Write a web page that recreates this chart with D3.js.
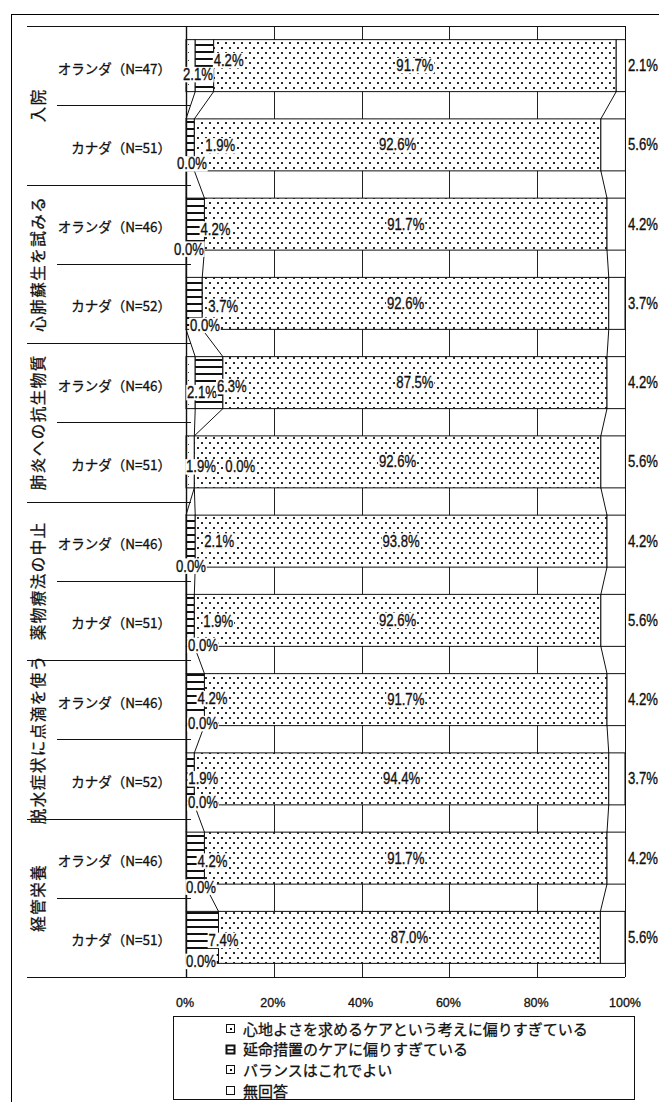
<!DOCTYPE html>
<html>
<head>
<meta charset="utf-8">
<script src="https://cdn.jsdelivr.net/npm/d3@7/dist/d3.min.js"></script>
<style>
  body { margin: 0; background: #fff; }
  svg { display: block; }
  .num { font-family: "Liberation Sans", Arial, sans-serif; font-size: 16px; fill: #111; stroke: #111; stroke-width: 0.35px; }
  .jp { font-family: "Noto Sans CJK JP", sans-serif; fill: #111; stroke: #111; stroke-width: 0.3px; }
</style>
</head>
<body>
<svg id="chart" width="659" height="1102"></svg>
<script>
// ---- data ----
const groups = ["入院", "心肺蘇生を試みる", "肺炎への抗生物質", "薬物療法の中止", "脱水症状に点滴を使う", "経管栄養"];
const rowLabels = [
  "オランダ（N=47）", "カナダ（N=51）",
  "オランダ（N=46）", "カナダ（N=52）",
  "オランダ（N=46）", "カナダ（N=51）",
  "オランダ（N=46）", "カナダ（N=51）",
  "オランダ（N=46）", "カナダ（N=52）",
  "オランダ（N=46）", "カナダ（N=51）"
];
const seriesNames = [
  "心地よさを求めるケアという考えに偏りすぎている",
  "延命措置のケアに偏りすぎている",
  "バランスはこれでよい",
  "無回答"
];
const comfort     = [2.1, 0.0, 0.0, 0.0, 2.1, 1.9, 0.0, 0.0, 0.0, 0.0, 0.0, 0.0];
const prolong     = [4.2, 1.9, 4.2, 3.7, 6.3, 0.0, 2.1, 1.9, 4.2, 1.9, 4.2, 7.4];
const balance     = [91.7, 92.6, 91.7, 92.6, 87.5, 92.6, 93.8, 92.6, 91.7, 94.4, 91.7, 87.0];
const noAnswer    = [2.1, 5.6, 4.2, 3.7, 4.2, 5.6, 4.2, 5.6, 4.2, 3.7, 4.2, 5.6];
const xTicks      = [0, 20, 40, 60, 80, 100];

// ---- label placement nudges (pixels) ----
// first-series labels: [dx from axis, dy from bar bottom]
const comfortNudge = [[-3,-17],[-9,-7],[-12,-1],[4,-4],[1,-16],[0,-21],[-10,-1],[2,-1],[2,-2],[2,-2],[0,3],[0,-2]];
// second-series labels: [dx from segment end, dy from bar centre]
const prolongNudge = [[0,-5],[11,1],[-4,5],[6,3],[-6,4],[31,5],[9,0],[9,1],[-7,-1],[-6,0],[-7,3],[-10,3]];

const keys = ["comfort", "prolong", "balance", "noAnswer"];
const rows = rowLabels.map((r, i) => ({
  idx: i, comfort: comfort[i], prolong: prolong[i], balance: balance[i], noAnswer: noAnswer[i]
}));
const stacked = d3.stack().keys(keys)(rows);

const svg = d3.select("#chart");

// ---- patterns ----
const defs = svg.append("defs");
const pSparse = defs.append("pattern").attr("id", "pat-sparse").attr("patternUnits", "userSpaceOnUse")
  .attr("width", 8).attr("height", 8);
pSparse.append("rect").attr("width", 8).attr("height", 8).attr("fill", "#fff");
pSparse.append("rect").attr("x", 4).attr("y", 4).attr("width", 1).attr("height", 1).attr("fill", "#444");

const pLines = defs.append("pattern").attr("id", "pat-lines").attr("patternUnits", "userSpaceOnUse")
  .attr("width", 8).attr("height", 7);
pLines.append("rect").attr("width", 8).attr("height", 7).attr("fill", "#fff");
pLines.append("rect").attr("x", 0).attr("y", 2).attr("width", 8).attr("height", 2).attr("fill", "#111");

const pDots = defs.append("pattern").attr("id", "pat-dots").attr("patternUnits", "userSpaceOnUse")
  .attr("width", 8).attr("height", 10);
pDots.append("rect").attr("width", 8).attr("height", 10).attr("fill", "#fff");
pDots.append("rect").attr("x", 1).attr("y", 2).attr("width", 2).attr("height", 2).attr("fill", "#2a2a2a");
pDots.append("rect").attr("x", 5).attr("y", 7).attr("width", 2).attr("height", 2).attr("fill", "#2a2a2a");

const fills = { comfort: "url(#pat-sparse)", prolong: "url(#pat-lines)", balance: "url(#pat-dots)", noAnswer: "#fff" };

// ---- scales ----
const x = d3.scaleLinear().domain([0, 100]).range([186, 625]);
const y = d3.scaleBand().domain(d3.range(rows.length)).range([26, 977])
  .paddingInner(0.344).paddingOuter(0.172);
const step = y.step();
const bw = y.bandwidth();
const top0 = y.range()[0], bottom0 = y.range()[1];

// outer frame
svg.append("rect").attr("x", 11.5).attr("y", 14.5).attr("width", 700).attr("height", 1200)
  .attr("fill", "none").attr("stroke", "#000").attr("stroke-width", 1);

// vertical gridlines
svg.append("g").selectAll("line").data(xTicks.filter(t => t > 0 && t < 100)).join("line")
  .attr("x1", d => Math.round(x(d)) + 0.5).attr("x2", d => Math.round(x(d)) + 0.5)
  .attr("y1", top0).attr("y2", bottom0)
  .attr("stroke", "#222").attr("stroke-width", 1);

// bars
const barG = svg.append("g");
stacked.forEach(layer => {
  barG.append("g").selectAll("rect")
    .data(layer.filter(d => d[1] - d[0] > 0))
    .join("rect")
    .attr("x", d => x(d[0]))
    .attr("y", d => y(d.data.idx))
    .attr("width", d => x(d[1]) - x(d[0]))
    .attr("height", bw)
    .attr("fill", fills[layer.key])
    .attr("stroke", "#111").attr("stroke-width", 1);
});

// series lines between consecutive bars
const sl = svg.append("g");
for (let i = 0; i < rows.length - 1; i++) {
  for (let k = 0; k < 3; k++) {
    sl.append("line")
      .attr("x1", x(stacked[k][i][1])).attr("y1", y(i) + bw)
      .attr("x2", x(stacked[k][i + 1][1])).attr("y2", y(i + 1))
      .attr("stroke", "#111").attr("stroke-width", 1);
  }
}

// plot frame
svg.append("line").attr("x1", x(0)).attr("x2", x(100)).attr("y1", top0 + 0.5).attr("y2", top0 + 0.5).attr("stroke", "#111");
svg.append("line").attr("x1", x(0)).attr("x2", x(100)).attr("y1", bottom0 + 0.5).attr("y2", bottom0 + 0.5).attr("stroke", "#111");
svg.append("line").attr("x1", x(100) + 0.5).attr("x2", x(100) + 0.5).attr("y1", top0).attr("y2", bottom0).attr("stroke", "#111");
svg.append("line").attr("x1", x(0) + 0.5).attr("x2", x(0) + 0.5).attr("y1", top0).attr("y2", bottom0 + 1).attr("stroke", "#111").attr("stroke-width", 1.4);

// category axis ticks and multi-level dividers
const divG = svg.append("g");
d3.range(rows.length + 1).forEach(k => {
  const yy = Math.round(top0 + k * step) + 0.5;
  divG.append("line").attr("x1", k % 2 === 0 ? 27 : 57).attr("x2", x(0) + 5)
    .attr("y1", yy).attr("y2", yy).attr("stroke", "#111").attr("stroke-width", 1);
});

// row labels
svg.append("g").selectAll("text").data(rowLabels).join("text")
  .attr("class", "jp")
  .attr("x", 171).attr("y", (d, i) => y(i) + bw / 2 + 2)
  .attr("text-anchor", "end").attr("dominant-baseline", "central")
  .attr("font-size", 13.5).text(d => d);

// group labels (vertical)
svg.append("g").selectAll("text").data(groups).join("text")
  .attr("class", "jp")
  .attr("transform", (d, i) => `translate(37,${top0 + (2 * i + 1) * step}) rotate(-90)`)
  .attr("text-anchor", "middle").attr("dominant-baseline", "central")
  .attr("font-size", 15.5).attr("letter-spacing", 1.5).text(d => d);

// value labels
const labG = svg.append("g");
function numLabel(px, py, txt, anchor, boxed) {
  const g = labG.append("g").attr("transform", `translate(${px},${py}) scale(0.82,1)`);
  const t = g.append("text").attr("class", "num").attr("text-anchor", anchor)
    .attr("dominant-baseline", "central").text(txt);
  if (boxed) {
    const b = t.node().getBBox();
    g.insert("rect", "text").attr("x", b.x - 1).attr("y", b.y + 1)
      .attr("width", b.width + 2).attr("height", b.height - 2).attr("fill", "#fff");
  }
}
const fmt = v => v.toFixed(1) + "%";
rows.forEach((r, i) => {
  const cy = y(i) + bw / 2;
  const bottom = y(i) + bw;
  // first series
  numLabel(x(0) + comfortNudge[i][0], bottom + comfortNudge[i][1], fmt(r.comfort), "start", true);
  // second series
  numLabel(x(stacked[1][i][1]) + prolongNudge[i][0], cy + prolongNudge[i][1], fmt(r.prolong), "start", true);
  // third series, centred
  numLabel((x(stacked[2][i][0]) + x(stacked[2][i][1])) / 2, cy, fmt(r.balance), "middle", true);
  // fourth series, outside right
  numLabel(628, cy, fmt(r.noAnswer), "start", false);
});

// x tick labels
svg.append("g").selectAll("text").data(xTicks).join("text")
  .attr("x", (d, i) => i === xTicks.length - 1 ? Math.min(x(d), 640) : x(d) - 1).attr("y", 1003)
  .attr("text-anchor", "middle").attr("dominant-baseline", "central")
  .attr("font-family", "Liberation Sans, Arial, sans-serif").attr("font-size", 12.5)
  .attr("fill", "#111").attr("stroke", "#111").attr("stroke-width", 0.3)
  .text(d => d + "%");

// legend
const lg = svg.append("g");
lg.append("rect").attr("x", 173.5).attr("y", 1016.5).attr("width", 461).attr("height", 83)
  .attr("fill", "#fff").attr("stroke", "#111");
seriesNames.forEach((name, i) => {
  const cy = 1028 + i * 20.7;
  const sq = lg.append("g");
  sq.append("rect").attr("x", 226.5).attr("y", Math.round(cy - 4) + 0.5).attr("width", 8).attr("height", 8)
    .attr("fill", "#fff").attr("stroke", "#111").attr("stroke-width", i === 1 ? 2 : 1);
  if (i === 1) sq.append("rect").attr("x", 227).attr("y", Math.round(cy)).attr("width", 7).attr("height", 1.5).attr("fill", "#111");
  if (i === 0 || i === 2) sq.append("rect").attr("x", 230).attr("y", Math.round(cy)).attr("width", 2).attr("height", 2).attr("fill", "#111");
  lg.append("text").attr("class", "jp").attr("x", 243).attr("y", cy)
    .attr("dominant-baseline", "central").attr("font-size", 15).text(name);
});
</script>
</body>
</html>
